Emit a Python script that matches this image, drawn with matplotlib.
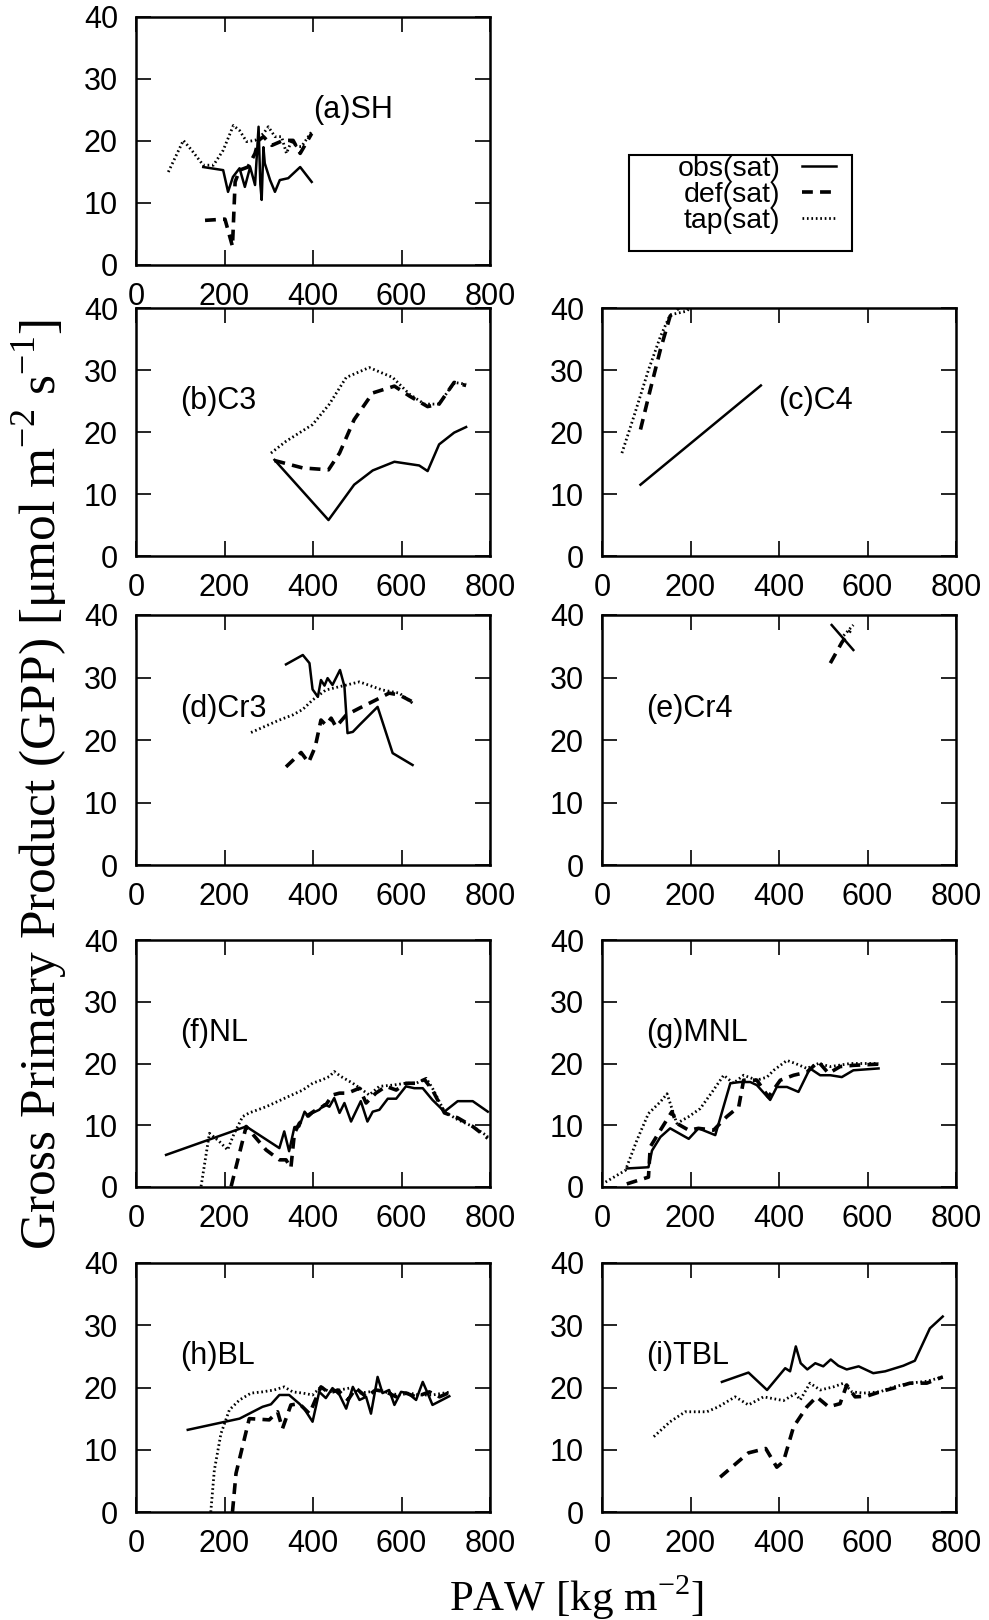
import matplotlib
matplotlib.use("Agg")
import matplotlib.pyplot as plt
from matplotlib.patches import Rectangle

plt.rcParams['font.family'] = ['Liberation Sans', 'DejaVu Sans']

# ---------------- data ----------------
# (a) SH
a_obs_x = [152, 197, 208, 219, 234, 246, 258, 269, 277, 281, 284, 288, 291, 303, 314, 325, 344, 371, 397]
a_obs_y = [15.8, 15.3, 11.8, 14.2, 15.6, 12.6, 15.8, 12.9, 22.3, 13.0, 10.5, 19.0, 16.4, 13.7, 11.8, 13.7, 14.0, 15.8, 13.4]
a_def_x = [156, 201, 208, 218, 224, 234, 253, 269, 277, 288, 296, 307, 333, 355, 371, 397]
a_def_y = [7.2, 7.4, 5.6, 3.0, 13.4, 15.3, 15.8, 18.0, 20.1, 20.7, 20.1, 19.3, 20.1, 20.1, 18.0, 21.2]
a_tap_x = [73, 107, 126, 152, 175, 197, 220, 234, 250, 269, 288, 299, 314, 329, 340, 352, 363, 374, 397]
a_tap_y = [15.0, 20.1, 18.5, 16.1, 16.1, 18.5, 22.5, 21.7, 19.9, 20.1, 21.2, 22.3, 20.7, 20.7, 18.0, 20.1, 19.1, 19.1, 21.5]

# (b) C3
b_obs_x = [313, 435, 493, 535, 584, 640, 659, 685, 719, 746]
b_obs_y = [15.5, 5.8, 11.5, 13.8, 15.2, 14.6, 13.7, 18.0, 19.9, 20.8]
b_def_x = [313, 377, 435, 460, 493, 535, 584, 618, 659, 685, 719, 746]
b_def_y = [15.4, 14.2, 13.9, 16.6, 22.0, 26.3, 27.4, 25.8, 24.1, 24.5, 28.0, 27.5]
b_tap_x = [305, 339, 399, 437, 475, 527, 580, 618, 652, 685, 719, 746]
b_tap_y = [16.6, 18.5, 21.2, 24.5, 28.8, 30.4, 28.8, 26.1, 24.5, 24.5, 28.0, 27.7]

# (c) C4
c_obs_x = [87, 359]
c_obs_y = [11.5, 27.5]
c_def_x = [87, 109, 132, 154, 192]
c_def_y = [20.4, 26.8, 33.3, 38.7, 41.3]
c_tap_x = [45, 72, 105, 132, 154, 192, 203]
c_tap_y = [16.6, 22.5, 30.0, 35.4, 38.9, 39.5, 40.5]

# (d) Cr3
d_obs_x = [339, 377, 392, 399, 411, 418, 426, 433, 444, 461, 471, 478, 490, 505, 546, 580, 625]
d_obs_y = [32.1, 33.6, 32.3, 28.1, 26.9, 29.6, 28.7, 29.9, 28.8, 31.2, 28.6, 21.1, 21.3, 22.4, 25.3, 17.9, 16.0]
d_def_x = [339, 373, 390, 405, 418, 429, 441, 452, 475, 505, 542, 572, 595, 625]
d_def_y = [15.7, 18.0, 16.4, 18.9, 23.2, 22.4, 23.5, 22.1, 24.0, 25.1, 26.4, 27.5, 27.2, 26.1]
d_tap_x = [260, 324, 354, 377, 399, 429, 452, 505, 557, 595, 625]
d_tap_y = [21.2, 23.2, 24.0, 24.9, 26.4, 28.0, 28.4, 29.3, 28.0, 27.5, 25.9]

# (e) Cr4
e_obs_x = [519, 568]
e_obs_y = [38.4, 34.4]
e_def_x = [516, 542, 561]
e_def_y = [32.3, 35.6, 37.5]
e_tap_x = [546, 568]
e_tap_y = [36.7, 38.4]

# (f) NL
f_obs_x = [68, 249, 324, 335, 346, 358, 369, 381, 390, 399, 414, 426, 437, 448, 460, 471, 486, 508, 523, 535,
           550, 569, 588, 610, 629, 648, 670, 697, 727, 761, 795]
f_obs_y = [5.2, 9.8, 6.3, 9.0, 5.8, 9.7, 9.8, 12.2, 11.4, 12.0, 12.5, 13.4, 13.0, 14.4, 12.0, 13.6, 10.6, 13.9, 10.6, 12.2,
           12.5, 14.3, 14.3, 16.3, 16.0, 16.0, 14.1, 12.2, 13.9, 13.9, 12.2]
f_def_x = [215, 234, 249, 294, 324, 339, 350, 358, 369, 384, 407, 429, 444, 460, 478, 505, 520, 542, 565, 588,
           610, 633, 652, 670, 697, 727, 761, 795]
f_def_y = [0.1, 5.5, 9.8, 6.0, 4.4, 4.4, 3.1, 8.7, 10.3, 11.4, 12.5, 13.3, 14.9, 15.2, 15.2, 16.0, 13.6, 15.2, 16.3, 15.7,
           16.8, 16.8, 17.4, 15.7, 12.0, 11.2, 9.8, 7.9]
f_tap_x = [147, 166, 188, 207, 222, 241, 256, 294, 346, 377, 399, 422, 437, 448, 463, 490, 512, 527, 550, 580,
           610, 633, 656, 670, 697, 727, 761, 795]
f_tap_y = [0.1, 8.7, 7.4, 6.0, 8.7, 11.4, 12.0, 13.0, 14.7, 15.7, 16.8, 17.4, 17.9, 18.7, 17.9, 16.8, 15.7, 14.9, 16.3, 16.5,
           16.8, 16.8, 17.6, 16.0, 12.2, 10.9, 9.8, 8.2]

# (g) MNL
g_obs_x = [56, 105, 113, 132, 154, 196, 218, 256, 290, 312, 335, 350, 380, 395, 418, 444, 470, 493, 516, 542, 568, 625]
g_obs_y = [3.0, 3.2, 5.9, 8.1, 9.5, 7.8, 9.5, 8.4, 16.8, 17.0, 17.0, 16.5, 14.1, 16.2, 16.2, 15.4, 19.2, 18.1, 18.1, 17.8, 18.9, 19.2]
g_def_x = [56, 105, 109, 132, 158, 169, 196, 218, 252, 282, 309, 320, 350, 376, 403, 433, 463, 489, 512, 538, 568, 625]
g_def_y = [0.5, 1.6, 6.5, 9.2, 12.2, 10.3, 9.2, 9.5, 9.2, 11.4, 13.0, 17.3, 17.3, 14.6, 17.3, 18.1, 18.6, 20.3, 18.4, 19.5, 19.7, 19.9]
g_tap_x = [8, 53, 79, 105, 132, 147, 169, 196, 222, 252, 275, 297, 320, 350, 373, 388, 418, 437, 463, 489, 516, 561, 625]
g_tap_y = [0.8, 2.7, 7.6, 11.9, 13.8, 15.1, 10.3, 11.4, 12.7, 15.7, 18.1, 16.8, 18.1, 17.3, 17.8, 18.9, 20.5, 20.0, 19.2, 20.0, 19.5, 20.0, 20.0]

# (h) BL
h_obs_x = [117, 234, 286, 305, 324, 346, 369, 380, 399, 414, 429, 444, 460, 475, 490, 505, 520, 531, 546, 557,
           572, 584, 599, 614, 633, 648, 659, 670, 708]
h_obs_y = [13.2, 15.0, 16.9, 17.3, 18.8, 18.8, 17.4, 16.6, 14.5, 19.3, 18.3, 19.9, 18.8, 16.6, 20.1, 18.0, 18.5, 15.8, 21.7, 19.1,
           19.6, 17.2, 19.3, 19.1, 18.0, 20.9, 19.1, 17.2, 18.6]
h_def_x = [218, 226, 256, 301, 320, 331, 350, 369, 392, 418, 437, 456, 479, 497, 520, 542, 565, 588, 610, 633, 663, 686, 712]
h_def_y = [0.0, 6.2, 15.0, 14.8, 16.1, 13.4, 17.2, 17.4, 15.8, 20.1, 19.1, 19.6, 18.0, 19.9, 18.5, 19.6, 19.3, 18.5, 19.1, 18.5, 19.3, 18.5, 19.3]
h_tap_x = [169, 177, 192, 211, 234, 260, 286, 312, 335, 354, 377, 399, 418, 437, 460, 482, 505, 527, 550, 572,
           595, 618, 640, 670, 712]
h_tap_y = [0.0, 6.7, 12.6, 16.4, 18.0, 19.1, 19.3, 19.6, 20.1, 19.3, 19.1, 18.8, 20.1, 19.3, 19.6, 19.9, 19.1, 19.3, 19.6, 19.1,
           18.8, 19.1, 18.8, 18.8, 19.3]

# (i) TBL
i_obs_x = [271, 331, 373, 414, 425, 438, 449, 464, 482, 500, 517, 534, 553, 580, 613, 640, 681, 707, 741, 770]
i_obs_y = [20.9, 22.4, 19.6, 23.1, 22.6, 26.6, 23.9, 22.9, 23.9, 23.4, 24.5, 23.5, 22.9, 23.4, 22.3, 22.6, 23.5, 24.3, 29.5, 31.4]
i_def_x = [267, 331, 370, 395, 410, 433, 463, 485, 512, 538, 553, 572, 598, 628, 659, 696, 734, 770]
i_def_y = [5.6, 9.5, 10.2, 7.2, 8.1, 13.7, 16.9, 18.5, 16.9, 17.4, 20.4, 18.5, 18.6, 19.3, 19.9, 20.7, 20.7, 21.7]
i_tap_x = [117, 154, 188, 237, 263, 301, 331, 365, 410, 437, 448, 470, 493, 523, 546, 565, 591, 628, 659, 696, 734, 770]
i_tap_y = [12.1, 14.5, 16.1, 16.1, 16.9, 18.5, 17.2, 18.5, 17.9, 19.0, 18.0, 20.7, 19.6, 20.1, 20.7, 19.3, 19.1, 19.3, 20.1, 20.7, 21.0, 21.7]

panel_labels = ["(a)SH", "(b)C3", "(c)C4", "(d)Cr3", "(e)Cr4", "(f)NL", "(g)MNL", "(h)BL", "(i)TBL"]
series_labels = ["obs(sat)", "def(sat)", "tap(sat)"]
x_ticks = [0, 200, 400, 600, 800]
y_ticks = [0, 10, 20, 30, 40]

panels = [
    (a_obs_x, a_obs_y, a_def_x, a_def_y, a_tap_x, a_tap_y),
    (b_obs_x, b_obs_y, b_def_x, b_def_y, b_tap_x, b_tap_y),
    (c_obs_x, c_obs_y, c_def_x, c_def_y, c_tap_x, c_tap_y),
    (d_obs_x, d_obs_y, d_def_x, d_def_y, d_tap_x, d_tap_y),
    (e_obs_x, e_obs_y, e_def_x, e_def_y, e_tap_x, e_tap_y),
    (f_obs_x, f_obs_y, f_def_x, f_def_y, f_tap_x, f_tap_y),
    (g_obs_x, g_obs_y, g_def_x, g_def_y, g_tap_x, g_tap_y),
    (h_obs_x, h_obs_y, h_def_x, h_def_y, h_tap_x, h_tap_y),
    (i_obs_x, i_obs_y, i_def_x, i_def_y, i_tap_x, i_tap_y),
]

# ---------------- layout (pixels) ----------------
W, H = 989, 1620
fig = plt.figure(figsize=(W / 100, H / 100), dpi=100)

col_left = [136, 602]
aw = 354
rows = [(17, 265), (308, 556), (615, 865), (940, 1187), (1263, 1512)]
slots = [(0, 0), (1, 0), (1, 1), (2, 0), (2, 1), (3, 0), (3, 1), (4, 0), (4, 1)]

label_x = {0: 400, 2: 398}
FS = 22

handles = None
for k, (slot, data) in enumerate(zip(slots, panels)):
    r, c = slot
    top, bot = rows[r]
    ax = fig.add_axes([col_left[c] / W, 1 - bot / H, aw / W, (bot - top) / H])
    ox, oy, dx, dy, tx, ty = data
    l1, = ax.plot(ox, oy, color='black', lw=1.8, ls='-')
    l2, = ax.plot(dx, dy, color='black', lw=2.6, ls=(0, (3, 2)))
    l3, = ax.plot(tx, ty, color='black', lw=2.0, ls=(0, (0.6, 1.0)))
    if handles is None:
        handles = [l1, l2, l3]
    ax.set_xlim(0, 800)
    ax.set_ylim(0, 40)
    ax.set_xticks(x_ticks)
    ax.set_yticks(y_ticks)
    ax.tick_params(direction='in', length=11, width=1.2, top=True, right=True,
                   labelsize=FS)
    ax.tick_params(axis='x', pad=12)
    ax.tick_params(axis='y', pad=13)
    for sp in ax.spines.values():
        sp.set_linewidth(1.8)
    ax.text(label_x.get(k, 100), 25, panel_labels[k], fontsize=FS, ha='left', va='center')

# legend box drawn separately (gnuplot-style key)
fig.patches.append(Rectangle((629 / W, 1 - 251 / H), 223 / W, 96 / H, transform=fig.transFigure,
                             fill=False, edgecolor='black', lw=1.5))
leg = fig.legend(handles, series_labels, loc='upper right',
                 bbox_to_anchor=(836 / W, 1 - 156 / H), bbox_transform=fig.transFigure,
                 markerfirst=False, fontsize=20.5, frameon=False,
                 handlelength=1.2, handletextpad=0.75, labelspacing=0.0,
                 borderpad=0.0, borderaxespad=0.0)
for t in leg.get_texts():
    t.set_ha('right')
leg._legend_box.align = "right"

fig.text(40 / W, 1 - 785 / H,
         r"Gross Primary Product (GPP) [$\mathregular{\mu}$mol m$^{\mathregular{-2}}$ s$^{\mathregular{-1}}$]",
         rotation=90, ha='center', va='center', fontsize=37, family='Liberation Serif')
fig.text(576 / W, 1 - 1598 / H, r"PAW [kg m$^{\mathregular{-2}}$]",
         ha='center', va='center', fontsize=31, family='Liberation Serif')

fig.savefig("out.png", dpi=100)
